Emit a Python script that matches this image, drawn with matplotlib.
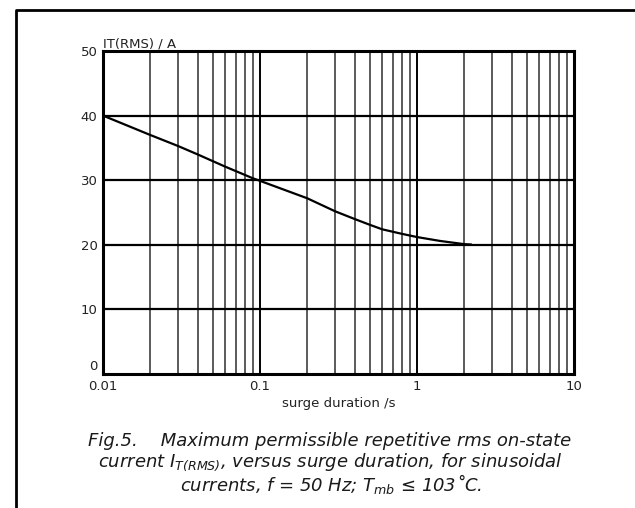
import matplotlib
matplotlib.use("Agg")
import matplotlib.pyplot as plt
from matplotlib.lines import Line2D

plt.rcParams['font.family'] = ['DejaVu Sans']
plt.rcParams['mathtext.fontset'] = 'custom'
plt.rcParams['mathtext.rm'] = 'DejaVu Sans:italic'
plt.rcParams['mathtext.it'] = 'DejaVu Sans:italic'

# rms current limit vs surge duration (f = 50 Hz)
duration = [0.01, 0.02, 0.03, 0.04, 0.06, 0.09, 0.1, 0.2, 0.3, 0.4, 0.5, 0.6,
            0.8, 1.0, 1.4, 2.0, 2.2]
current = [40, 37.0, 35.3, 34.0, 32.1, 30.3, 29.9, 27.2, 25.2, 24.0, 23.1, 22.4,
           21.7, 21.2, 20.6, 20.1, 20.05]

xticks = [0.01, 0.1, 1, 10]
xticklabels = ['0.01', '0.1', '1', '10']
yticks = [0, 10, 20, 30, 40, 50]
yticklabels = ['', '10', '20', '30', '40', '50']

fig = plt.figure(figsize=(6.35, 5.08), dpi=100)
ax = fig.add_axes([103 / 635, 1 - 374 / 508, 471 / 635, 323 / 508])

ax.set_xscale('log')
ax.set_xlim(0.01, 10)
ax.set_ylim(0, 50)

# log grid: decades black, 2..9 grey
for dec in [0.01, 0.1, 1]:
    for k in range(2, 10):
        ax.axvline(dec * k, color='#5a5a5a', lw=1.4, zorder=1)
    ax.axvline(dec * 10, color='black', lw=1.4, zorder=1)
for y in yticks[1:-1]:
    ax.axhline(y, color='black', lw=1.6, zorder=1)

ax.plot(duration, current, color='black', lw=1.6, zorder=3)

for s in ax.spines.values():
    s.set_linewidth(2.2)

ax.set_xticks(xticks)
ax.set_xticklabels(xticklabels)
ax.minorticks_off()
ax.set_yticks(yticks)
ax.set_yticklabels(yticklabels)
ax.tick_params(length=0, labelsize=9.5, pad=4, colors='#222222')
ax.set_xlabel('surge duration /s', fontsize=9.5, labelpad=3, color='#222222')
ax.text(0, 1.003, 'IT(RMS) / A', transform=ax.transAxes, fontsize=9.5,
        ha='left', va='bottom', color='#222222')
# zero label raised so it clears the 0.01 label
ax.text(-0.012, 0.2, '0', transform=ax.get_yaxis_transform(), fontsize=9.5,
        ha='right', va='bottom', color='#222222')

# outer frame
fig.add_artist(Line2D([16 / 635, 16 / 635, 1.0], [0, 1 - 10 / 508, 1 - 10 / 508],
                      transform=fig.transFigure, color='black', lw=2))

cap = dict(fontsize=13, style='italic', transform=fig.transFigure,
           va='baseline', ha='center', color='#1a1a1a')
fig.text(330 / 635, 1 - 446 / 508,
         'Fig.5.    Maximum permissible repetitive rms on-state', **cap)
fig.text(330 / 635, 1 - 467 / 508,
         r'current $I_{T(RMS)}$, versus surge duration, for sinusoidal', **cap)
fig.text(331 / 635, 1 - 491 / 508,
         r'currents, $f$ = 50 Hz; $T_{mb}$ ≤ 103˚C.', **cap)

fig.savefig('out.png', dpi=100)
